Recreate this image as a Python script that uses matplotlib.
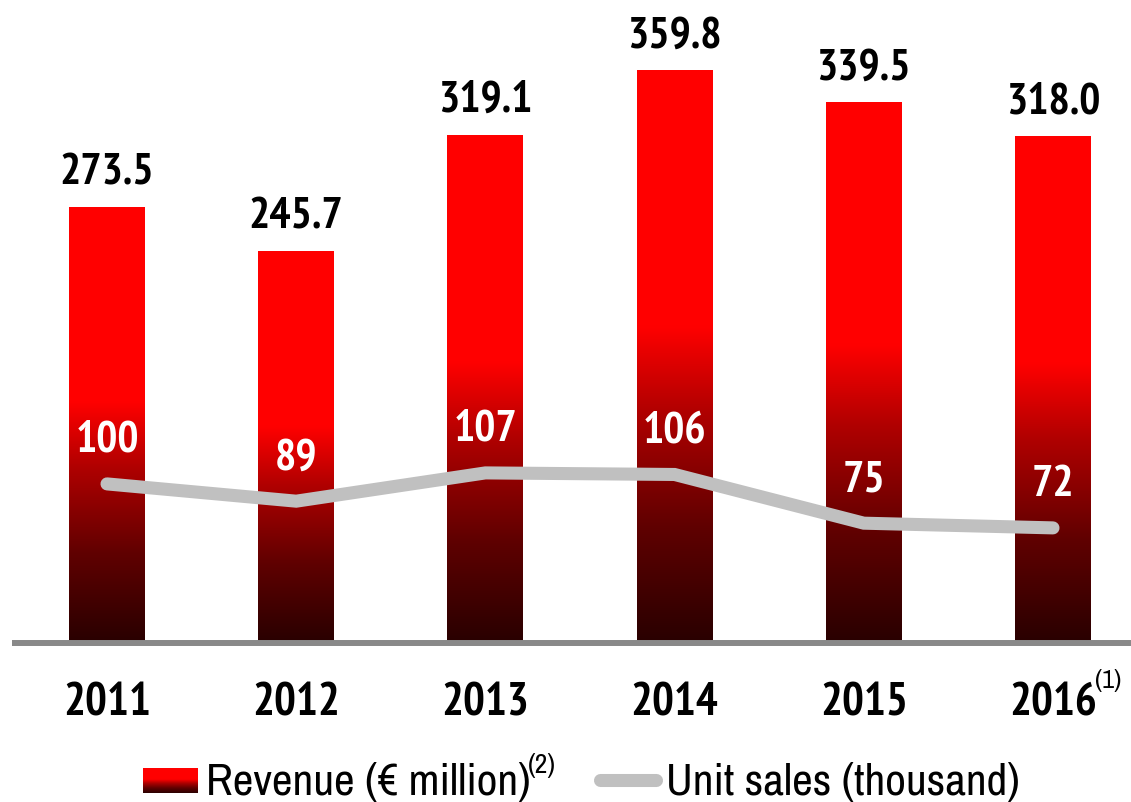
import matplotlib
matplotlib.use('Agg')
import matplotlib.pyplot as plt
import numpy as np
from matplotlib.colors import LinearSegmentedColormap
from matplotlib.lines import Line2D

years = ['2011', '2012', '2013', '2014', '2015', '2016']
revenue = [273.5, 245.7, 319.1, 359.8, 339.5, 318.0]
revenue_labels = ['273.5', '245.7', '319.1', '359.8', '339.5', '318.0']
units = [100, 89, 107, 106, 75, 72]
legend_labels = ['Revenue (€ million)', 'Unit sales (thousand)']

BFAM = ['PT Sans Narrow', 'DejaVu Sans']
RFAM = ['Archivo Narrow', 'DejaVu Sans']

W, H = 1131, 802
fig = plt.figure(figsize=(W / 100, H / 100), dpi=100)
base_px = 641
ax = fig.add_axes([0, (H - base_px) / H, 1, base_px / H])
step = 189.2
x0 = 107
ax.set_xlim(-x0 / step, (W - x0) / step)
ax.set_ylim(0, base_px / 1.587)
ax.axis('off')

cmap = LinearSegmentedColormap.from_list('rg', [(0, '#2a0000'), (0.2, '#600000'),
                                                (0.4, '#b00000'), (0.55, '#ff0000'),
                                                (1, '#ff0000')])
grad = np.linspace(0, 1, 256).reshape(-1, 1)
x = np.arange(len(years))
bw = 76 / step
bars = ax.bar(x, revenue, width=bw, color='none', edgecolor='none')
for b in bars:
    im = ax.imshow(grad, cmap=cmap, origin='lower', aspect='auto',
                   extent=[b.get_x(), b.get_x() + b.get_width(), 0, b.get_height()],
                   zorder=2)
    im.set_clip_path(b)
ax.set_xlim(-x0 / step, (W - x0) / step)
ax.set_ylim(0, base_px / 1.587)

for xi, v, lab in zip(x, revenue, revenue_labels):
    ax.annotate(lab, (xi, v), xytext=(0, 16.3), textcoords='offset points',
                ha='center', va='baseline', fontsize=32, fontweight='bold',
                family=BFAM, color='black')

ax2 = ax.twinx()
ax2.set_ylim(0, base_px / 1.571)
ax2.axis('off')
ax2.plot(x, units, color='#c0c0c0', lw=9.4, solid_capstyle='round',
         solid_joinstyle='miter', zorder=3)
for xi, u in zip(x, units):
    ax2.annotate(str(u), (xi, u), xytext=(0, 23), textcoords='offset points',
                 ha='center', va='baseline', fontsize=32, fontweight='bold',
                 family=BFAM, color='white', zorder=5)

# baseline
fig.add_artist(Line2D([12 / W, 1], [(H - 643) / H] * 2, color='#898989', lw=4.3,
                      solid_capstyle='butt'))

# year labels
for xi, yr in zip(x, years):
    ax.annotate(yr, (xi, (H - 715) / H), xycoords=('data', 'figure fraction'),
                ha='center', va='baseline', fontsize=33, fontweight='bold',
                family=BFAM, color='black')
ax.annotate('(1)', (x[-1], (H - 688) / H), xycoords=('data', 'figure fraction'),
            xytext=(30, 0), textcoords='offset points', ha='left', va='baseline',
            fontsize=19, family=RFAM, color='black')

# legend
lax = fig.add_axes([143 / W, (H - 793) / H, 55 / W, 25 / H])
lax.imshow(grad, cmap=cmap, origin='lower', aspect='auto')
lax.axis('off')
fig.text(206 / W, (H - 795) / H, legend_labels[0], ha='left', va='baseline',
         fontsize=32.6, family=RFAM, color='black')
fig.text(528 / W, (H - 773) / H, '(2)', ha='left', va='baseline',
         fontsize=20, family=RFAM, color='black')
fig.add_artist(Line2D([600 / W, 656 / W], [(H - 780) / H] * 2, color='#c0c0c0',
                      lw=9.4, solid_capstyle='round'))
fig.text(666 / W, (H - 795) / H, legend_labels[1], ha='left', va='baseline',
         fontsize=32.6, family=RFAM, color='black')

fig.savefig('out.png', dpi=100)
